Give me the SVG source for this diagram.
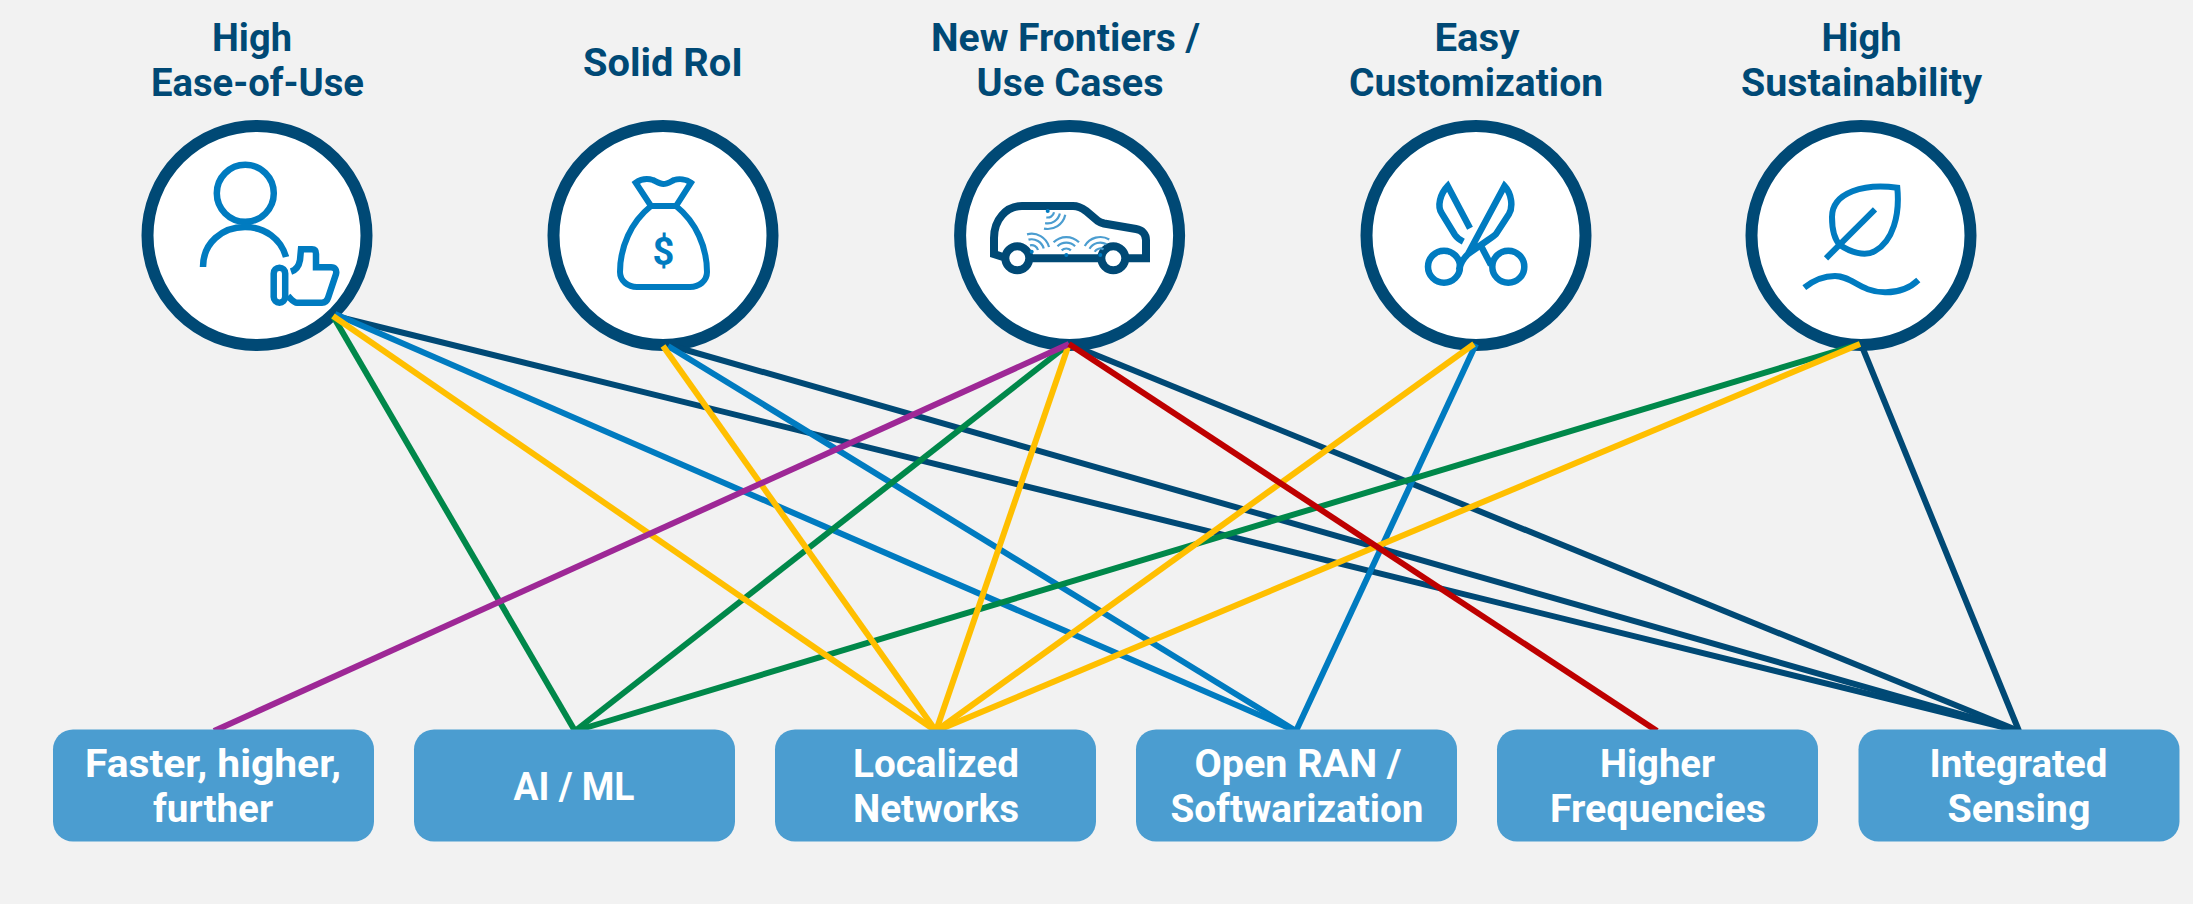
<svg xmlns="http://www.w3.org/2000/svg" xmlns:xlink="http://www.w3.org/1999/xlink" width="2193" height="904" viewBox="0 0 2193 904">
<style>
.t{font-family:Roboto,"Open Sans","Liberation Sans",sans-serif;font-weight:700;font-size:38px;text-anchor:middle}
.h{fill:#004975}
.b{fill:#fff}
.ring{fill:#fff;stroke:#004975;stroke-width:12}
.box{fill:#4b9dd0}
.i{fill:none;stroke:#007bc0;stroke-width:6.5;stroke-linejoin:miter}
.c{fill:none;stroke:#004975;stroke-width:8}
.w{fill:none;stroke:#4b9dd0;stroke-width:2.2}
.d{fill:#007bc0}
.l{fill:none;stroke-width:6}
.navy{stroke:#004975}.blue{stroke:#007bc0}.green{stroke:#00884a}.yellow{stroke:#ffbf00}.red{stroke:#be0000}.purple{stroke:#9e2896}
</style>
<defs>
<g id="wv">
<path class="w" d="M-4.6 -4.6A6.5 6.5 0 0 1 4.6 -4.6"/>
<path class="w" d="M-8.8 -8.8A12.5 12.5 0 0 1 8.8 -8.8"/>
<path class="w" d="M-12.7 -12.7A18 18 0 0 1 12.7 -12.7"/>
</g>
</defs>
<rect width="2193" height="904" fill="#f2f2f2"/>

<g id="node-ease">
<text class="t h" x="252" y="51" textLength="80" lengthAdjust="spacingAndGlyphs">High</text>
<text class="t h" x="257.5" y="96" textLength="213" lengthAdjust="spacingAndGlyphs">Ease-of-Use</text>
<circle class="ring" cx="257" cy="235.5" r="109.5"/>
<circle class="i" cx="245.3" cy="193.3" r="28.5"/>
<path class="i" d="M203 267C203 243 222 227 245 227C265 227 281 239 286 257"/>
<rect class="i" x="273.7" y="267.7" width="11.5" height="35" rx="5.7"/>
<path class="i" d="M291 271.7C296 270 299 266 300 260L301 249.3H312C315 249.3 316 251 316 254V267.3H331C335 267.3 337 270 336 274L328 298C327 301 325 302.7 322 302.7H297C294 302.7 292 300 288 296"/>
</g>

<g id="node-roi">
<text class="t h" x="663" y="76" textLength="160" lengthAdjust="spacingAndGlyphs">Solid RoI</text>
<circle class="ring" cx="663" cy="235.5" r="109.5"/>
<path class="i" style="stroke-width:6" d="M635.7 182.7C641 179 648 178.5 653 180C657 182 660 184 663.3 184C667 184 670 182 674 180C679 178.5 686 179 691 182.7L676 206H651Z"/>
<path class="i" style="stroke-width:6" d="M651 206C631 222 620 247 620 272C620 281 628 287 637 287H690C699 287 707 281 707 272C707 247 696 222 676 206"/>
<text x="663.3" y="265" style="font-family:Roboto,sans-serif;font-weight:700;font-size:38px;text-anchor:middle" fill="#007bc0">$</text>
</g>

<g id="node-frontiers">
<text class="t h" x="1065.5" y="51" textLength="269" lengthAdjust="spacingAndGlyphs">New Frontiers /</text>
<text class="t h" x="1070" y="96" textLength="187" lengthAdjust="spacingAndGlyphs">Use Cases</text>
<circle class="ring" cx="1069.6" cy="235.5" r="109.5"/>
<path class="c" d="M1003 257L994 254V238C994 220 1006 206 1022 206H1073C1078 206 1082 208 1086 211L1098 221C1100 222.500 1102 223 1104 223.500L1136 229C1142 230 1146 234 1146 240V258.300H1125M1102 258.300H1030"/>
<circle cx="1017.300" cy="258.300" r="12" fill="#fff" stroke="#004975" stroke-width="8"/>
<circle cx="1113.300" cy="258.300" r="12" fill="#fff" stroke="#004975" stroke-width="8"/>
<use xlink:href="#wv" href="#wv" transform="translate(1047.700 211) rotate(147)"/>
<use xlink:href="#wv" href="#wv" transform="translate(1031.700 251.700) rotate(30)"/>
<use xlink:href="#wv" href="#wv" transform="translate(1066.300 255)"/>
<use xlink:href="#wv" href="#wv" transform="translate(1100.300 255) rotate(-15)"/>
<circle class="d" cx="1047.700" cy="211" r="2"/>
<circle class="d" cx="1031.700" cy="251.700" r="2"/>
<circle class="d" cx="1066.300" cy="255" r="2"/>
<circle class="d" cx="1100.300" cy="255" r="2"/>
</g>

<g id="node-custom">
<text class="t h" x="1477" y="51" textLength="85" lengthAdjust="spacingAndGlyphs">Easy</text>
<text class="t h" x="1476" y="96" textLength="254" lengthAdjust="spacingAndGlyphs">Customization</text>
<circle class="ring" cx="1476" cy="235.5" r="109.5"/>
<circle class="i" cx="1444" cy="266.700" r="16"/>
<circle class="i" cx="1508.300" cy="266.700" r="16"/>
<path class="i" d="M1459 270C1460 264 1463 259 1468 254L1504.500 186C1512 194 1513 207 1509 214L1496 234C1494 236 1491 238 1488 240L1468 254"/>
<path class="i" d="M1481.700 247.300L1491 265"/>
<path class="i" d="M1470 228.300L1447.700 186C1440 194 1437 206 1441.700 213.300L1455 235C1457 238 1460 240 1463.300 241.700"/>
</g>

<g id="node-sustain">
<text class="t h" x="1861.500" y="51" textLength="80" lengthAdjust="spacingAndGlyphs">High</text>
<text class="t h" x="1861.500" y="96" textLength="241" lengthAdjust="spacingAndGlyphs">Sustainability</text>
<circle class="ring" cx="1861" cy="235.5" r="109.5"/>
<path class="i" style="stroke-width:6" d="M1897.300 187.700C1865 183 1832 192 1832 217C1832 230 1835 240 1840 245C1850 252 1865 257 1875 251C1893 241 1900 215 1897.300 187.700Z"/>
<path class="i" style="stroke-width:6" d="M1875 209.300L1826 258.300"/>
<path class="i" style="stroke-width:6" d="M1804.300 287.700C1815 279 1825 276 1835 276C1852 276 1860 292 1885 292.300C1900 292.500 1910 288 1918.300 280"/>
</g>

<g id="connectors">
<line class="l navy" x1="335" y1="316" x2="2019" y2="731"/>
<line class="l navy" x1="672" y1="346" x2="2019" y2="731"/>
<line class="l navy" x1="1069" y1="344" x2="2019" y2="731"/>
<line class="l navy" x1="1861" y1="344" x2="2019" y2="731"/>
<line class="l blue" x1="335" y1="314" x2="1296" y2="731"/>
<line class="l blue" x1="668" y1="346" x2="1296" y2="731"/>
<line class="l blue" x1="1476" y1="344" x2="1296" y2="731"/>
<line class="l green" x1="333" y1="316" x2="575" y2="731"/>
<line class="l green" x1="1069" y1="344" x2="575" y2="731"/>
<line class="l green" x1="1860" y1="344" x2="575" y2="731"/>
<line class="l yellow" x1="333" y1="316" x2="936" y2="731"/>
<line class="l yellow" x1="663" y1="346" x2="936" y2="731"/>
<line class="l yellow" x1="1069" y1="344" x2="936" y2="731"/>
<line class="l yellow" x1="1474" y1="344" x2="936" y2="731"/>
<line class="l yellow" x1="1860" y1="344" x2="936" y2="731"/>
<line class="l purple" x1="1069" y1="344" x2="214" y2="731"/>
<line class="l red" x1="1069" y1="344" x2="1657" y2="731"/>
</g>

<g id="node-faster">
<rect class="box" x="53" y="729.500" width="321" height="112" rx="20"/>
<text class="t b" x="213" y="777" textLength="256" lengthAdjust="spacingAndGlyphs">Faster, higher,</text>
<text class="t b" x="213" y="822" textLength="120" lengthAdjust="spacingAndGlyphs">further</text>
</g>
<g id="node-aiml">
<rect class="box" x="414" y="729.500" width="321" height="112" rx="20"/>
<text class="t b" x="574" y="800" textLength="121" lengthAdjust="spacingAndGlyphs">AI / ML</text>
</g>
<g id="node-local">
<rect class="box" x="775" y="729.500" width="321" height="112" rx="20"/>
<text class="t b" x="936" y="777" textLength="166" lengthAdjust="spacingAndGlyphs">Localized</text>
<text class="t b" x="936" y="822" textLength="166" lengthAdjust="spacingAndGlyphs">Networks</text>
</g>
<g id="node-oran">
<rect class="box" x="1136" y="729.500" width="321" height="112" rx="20"/>
<text class="t b" x="1298" y="777" textLength="207" lengthAdjust="spacingAndGlyphs">Open RAN /</text>
<text class="t b" x="1297" y="822" textLength="253" lengthAdjust="spacingAndGlyphs">Softwarization</text>
</g>
<g id="node-freq">
<rect class="box" x="1497" y="729.500" width="321" height="112" rx="20"/>
<text class="t b" x="1657.500" y="777" textLength="115" lengthAdjust="spacingAndGlyphs">Higher</text>
<text class="t b" x="1658" y="822" textLength="216" lengthAdjust="spacingAndGlyphs">Frequencies</text>
</g>
<g id="node-sensing">
<rect class="box" x="1858.500" y="729.500" width="321" height="112" rx="20"/>
<text class="t b" x="2018.500" y="777" textLength="178" lengthAdjust="spacingAndGlyphs">Integrated</text>
<text class="t b" x="2019" y="822" textLength="143" lengthAdjust="spacingAndGlyphs">Sensing</text>
</g>
</svg>
